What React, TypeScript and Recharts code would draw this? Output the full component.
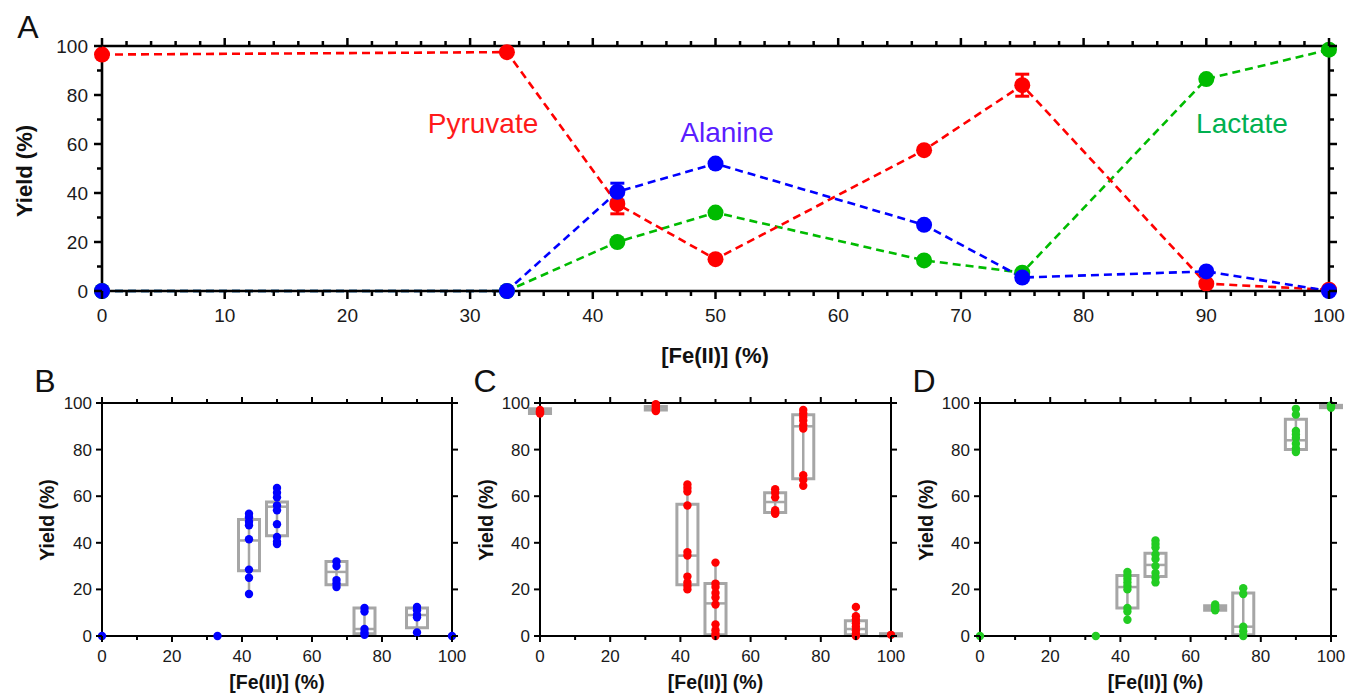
import React from 'react';
import {
  ComposedChart,
  Line,
  Scatter,
  XAxis,
  YAxis,
  ErrorBar,
  ReferenceArea,
  ReferenceLine,
} from 'recharts';

const FONT = '"Liberation Sans", Arial, Helvetica, sans-serif';

// ---- Panel A: mean yields vs [Fe(II)] ----
const feLevels = [0, 33, 42, 50, 67, 75, 90, 100];
const pyruvateMean = [96.5, 97.5, 35.5, 13, 57.5, 84, 3, 0.5];
const pyruvateErr = [0, 0, 4, 0, 0, 4.5, 0, 0];
const alanineMean = [0, 0, 40.5, 52, 27, 5.5, 8, 0];
const alanineErr = [0, 0, 3.5, 0, 0, 0, 0, 0];
const lactateMean = [0, 0, 20, 32, 12.5, 7.5, 86.5, 98.5];

const ticksA_x = [
  0, 2, 4, 6, 8, 10, 12, 14, 16, 18, 20, 22, 24, 26, 28, 30, 32, 34, 36, 38, 40, 42, 44, 46, 48, 50,
  52, 54, 56, 58, 60, 62, 64, 66, 68, 70, 72, 74, 76, 78, 80, 82, 84, 86, 88, 90, 92, 94, 96, 98, 100,
];
const ticksA_y = [0, 10, 20, 30, 40, 50, 60, 70, 80, 90, 100];

// ---- Panels B-D: individual runs + box stats ----
const ticksSmall_x = [0, 10, 20, 30, 40, 50, 60, 70, 80, 90, 100];
const ticksSmall_y = [0, 20, 40, 60, 80, 100];

const alanineRuns = [
  [0],
  [0],
  [52.5, 51, 49, 47.5, 41.5, 28.5, 25, 18],
  [63.5, 61.5, 59.5, 56, 54, 48, 42.5, 40.5, 39.5],
  [32, 30, 24, 22.5, 21],
  [12, 10.5, 3, 1.5, 0.5],
  [12.5, 11, 9, 8, 1.5],
  [0],
];
const alanineQ1 = [null, null, 28, 43, 22, 1, 3.5, null];
const alanineMed = [null, null, 41, 55.5, 27.5, 3, 9, null];
const alanineQ3 = [null, null, 50, 57.5, 32, 12, 12, null];

const pyruvateRuns = [
  [97, 96.5, 96, 95.5],
  [99.5, 98.5, 97.5, 97, 96.5],
  [65, 63.5, 62, 56, 36, 34.5, 25.5, 23, 21.5, 20],
  [31.5, 22.5, 21, 18.5, 16.5, 13.5, 5, 2.5, 1, 0],
  [63, 61.5, 59.5, 54, 53, 52.5],
  [97, 95.5, 94, 92.5, 90.5, 89, 69, 67, 64.5],
  [12.5, 8.5, 7, 5.5, 4, 2.5, 1, 0],
  [0.5],
];
const pyruvateQ1 = [95.5, 97, 22, 0.5, 53, 67.5, 0.5, 0];
const pyruvateMed = [96.5, 98, 34.5, 14, 57.5, 90, 3, 0.5];
const pyruvateQ3 = [97.5, 98.5, 56.5, 22.5, 61.5, 95, 6.5, 1];

const lactateRuns = [
  [0],
  [0],
  [27.5, 26, 24.5, 23, 21.5, 20, 12, 10.5, 7],
  [41, 39.5, 38, 35, 33, 30, 27, 25, 23],
  [13.5, 12.5, 11.5, 11],
  [20.5, 18, 4, 2, 0],
  [97.5, 95, 88, 86.5, 85, 82.5, 80.5, 79],
  [99, 98.5, 98],
];
const lactateQ1 = [null, null, 12, 25.5, 11, 0.5, 80, 98];
const lactateMed = [null, null, 21, 30.5, 12, 4, 84, 98.5];
const lactateQ3 = [null, null, 26, 35.5, 13, 18.5, 93, 99];

// ---- styles / layout ----
const RED = '#ff0000';
const BLUE = '#0000ff';
const GREEN_A = '#00bb00';
const GREEN = '#22cc22';
const GREY = '#a6a6a6';
const BOX_HALF = 3;

interface TickOpts {
  side: 'bottom' | 'left';
  isMajor: (v: number) => boolean;
  major: number;
  minor: number;
  fontSize: number;
  gap: number;
  sw: number;
  far?: number; // distance to the opposite frame side: twin tick drawn there
}

// tick mark (+ twin on the opposite frame side) and label for bottom / left axes
const makeTick = (o: TickOpts) => (props: any) => {
  const x = Number(props.x);
  const y = Number(props.y);
  const v = Number(props.payload.value);
  const big = o.isMajor(v);
  const len = big ? o.major : o.minor;
  if (o.side === 'bottom') {
    const yt = y - (o.far ?? 0);
    return (
      <g>
        <line x1={x} y1={y} x2={x} y2={y + len} stroke="#000" strokeWidth={o.sw} />
        {o.far ? <line x1={x} y1={yt} x2={x} y2={yt - len} stroke="#000" strokeWidth={o.sw} /> : null}
        {big && (
          <text x={x} y={y + o.gap} dy="0.71em" textAnchor="middle" fontSize={o.fontSize} fill="#1a1a1a" fontFamily={FONT}>
            {v}
          </text>
        )}
      </g>
    );
  }
  const xr = x + (o.far ?? 0);
  return (
    <g>
      <line x1={x} y1={y} x2={x - len} y2={y} stroke="#000" strokeWidth={o.sw} />
      {o.far ? <path d={`M${xr},${y}h${len}`} stroke="#000" strokeWidth={o.sw} fill="none" /> : null}
      {big && (
        <text x={x - o.gap} y={y} dy="0.35em" textAnchor="end" fontSize={o.fontSize} fill="#1a1a1a" fontFamily={FONT}>
          {v}
        </text>
      )}
    </g>
  );
};

const dataA = feLevels.map((x, i) => ({
  x,
  py: pyruvateMean[i],
  pyE: pyruvateErr[i],
  al: alanineMean[i],
  alE: alanineErr[i],
  la: lactateMean[i],
}));

const bigDot = (color: string) => (p: any) =>
  <circle key={`d${p.index}`} cx={p.cx} cy={p.cy} r={8} fill={color} stroke="none" />;

const A_W = 1347;
const A_H = 340;
const A_M = { top: 30, right: 8, bottom: 9, left: 42 };
const A_PLOT_W = A_W - A_M.left - A_M.right - 60 - 10;
const A_PLOT_H = A_H - A_M.top - A_M.bottom - 16 - 40;

const PanelA = () => {
  const major10 = (v: number) => v % 10 === 0;
  const major20 = (v: number) => v % 20 === 0;
  const axisStroke = { stroke: '#000', strokeWidth: 2.6 };
  return (
    <ComposedChart width={A_W} height={A_H} data={dataA} margin={A_M} style={{ overflow: 'visible' }}>
      <XAxis
        xAxisId={0}
        dataKey="x"
        type="number"
        domain={[0, 100]}
        ticks={ticksA_x}
        interval={0}
        height={40}
        tickSize={0}
        tickMargin={0}
        tickLine={false}
        axisLine={axisStroke}
        tick={makeTick({ side: 'bottom', isMajor: major10, major: 8, minor: 5, fontSize: 19, gap: 18, sw: 2.5, far: A_PLOT_H })}
      />
      <XAxis xAxisId="top" orientation="top" type="number" domain={[0, 100]} height={16} tick={false} tickLine={false} axisLine={axisStroke} />
      <YAxis
        yAxisId={0}
        type="number"
        domain={[0, 100]}
        ticks={ticksA_y}
        interval={0}
        width={60}
        tickSize={0}
        tickMargin={0}
        tickLine={false}
        axisLine={axisStroke}
        tick={makeTick({ side: 'left', isMajor: major20, major: 8, minor: 5, fontSize: 19, gap: 14, sw: 2.5, far: A_PLOT_W })}
      />
      <YAxis yAxisId="right" orientation="right" type="number" domain={[0, 100]} width={10} tick={false} tickLine={false} axisLine={axisStroke} />
      <Line
        type="linear"
        dataKey="la"
        stroke={GREEN_A}
        strokeWidth={2.6}
        strokeDasharray="8 5"
        dot={bigDot(GREEN_A)}
        activeDot={false}
        isAnimationActive={false}
      />
      <Line
        type="linear"
        dataKey="py"
        stroke={RED}
        strokeWidth={2.6}
        strokeDasharray="8 5"
        dot={bigDot(RED)}
        activeDot={false}
        isAnimationActive={false}
      >
        <ErrorBar dataKey="pyE" width={7} strokeWidth={3} stroke={RED} direction="y" />
      </Line>
      <Line
        type="linear"
        dataKey="al"
        stroke={BLUE}
        strokeWidth={2.6}
        strokeDasharray="8 5"
        dot={bigDot(BLUE)}
        activeDot={false}
        isAnimationActive={false}
      >
        <ErrorBar dataKey="alE" width={7} strokeWidth={3} stroke={BLUE} direction="y" />
      </Line>
    </ComposedChart>
  );
};

interface SmallProps {
  runs: number[][];
  q1: (number | null)[];
  med: (number | null)[];
  q3: (number | null)[];
  color: string;
  plotWidth: number;
}

const S_H = 298;
const S_M = { top: 14, right: 6, bottom: 5, left: 0 };
const S_PLOT_H = S_H - S_M.top - S_M.bottom - 16 - 30;

const SmallPanel = ({ runs, q1, med, q3, color, plotWidth }: SmallProps) => {
  const pts = feLevels.flatMap((x, i) => runs[i].map((y) => ({ x, y })));
  const major20 = (v: number) => v % 20 === 0;
  const all = () => true;
  const axisStroke = { stroke: '#000', strokeWidth: 2 };
  return (
    <ComposedChart width={60 + plotWidth + 10 + S_M.right} height={S_H} margin={S_M} style={{ overflow: 'visible' }}>
      <XAxis
        xAxisId={0}
        dataKey="x"
        type="number"
        domain={[0, 100]}
        ticks={ticksSmall_x}
        interval={0}
        height={30}
        tickSize={0}
        tickMargin={0}
        tickLine={false}
        axisLine={axisStroke}
        tick={makeTick({ side: 'bottom', isMajor: major20, major: 6, minor: 4, fontSize: 17, gap: 14, sw: 2, far: S_PLOT_H })}
      />
      <XAxis xAxisId="top" orientation="top" type="number" domain={[0, 100]} height={16} tick={false} tickLine={false} axisLine={axisStroke} />
      <YAxis
        yAxisId={0}
        dataKey="y"
        type="number"
        domain={[0, 100]}
        ticks={ticksSmall_y}
        interval={0}
        width={60}
        tickSize={0}
        tickMargin={0}
        tickLine={false}
        axisLine={axisStroke}
        tick={makeTick({ side: 'left', isMajor: all, major: 6, minor: 6, fontSize: 17, gap: 10, sw: 2, far: plotWidth })}
      />
      <YAxis yAxisId="right" orientation="right" type="number" domain={[0, 100]} width={10} tick={false} tickLine={false} axisLine={axisStroke} />
      {feLevels.map((x, i) =>
        q1[i] === null ? null : (
          <ReferenceLine
            key={`w${i}`}
            segment={[
              { x, y: Math.min(...runs[i]) },
              { x, y: Math.max(...runs[i]) },
            ]}
            stroke={GREY}
            strokeWidth={2.5}
            ifOverflow="visible"
          />
        )
      )}
      {feLevels.map((x, i) =>
        q1[i] === null ? null : (
          <ReferenceArea
            key={`b${i}`}
            x1={x - BOX_HALF}
            x2={x + BOX_HALF}
            y1={q1[i] as number}
            y2={q3[i] as number}
            fill="none"
            fillOpacity={0}
            stroke={GREY}
            strokeWidth={3}
            ifOverflow="visible"
          />
        )
      )}
      {feLevels.map((x, i) =>
        med[i] === null ? null : (
          <ReferenceLine
            key={`m${i}`}
            segment={[
              { x: x - BOX_HALF, y: med[i] as number },
              { x: x + BOX_HALF, y: med[i] as number },
            ]}
            stroke={GREY}
            strokeWidth={2.5}
            ifOverflow="visible"
          />
        )
      )}
      <Scatter
        data={pts}
        fill={color}
        isAnimationActive={false}
        shape={(p: any) => <circle cx={p.cx} cy={p.cy} r={4.2} fill={color} />}
      />
    </ComposedChart>
  );
};

const Overlay = () => (
  <svg
    width={1347}
    height={696}
    style={{ position: 'absolute', left: 0, top: 0, pointerEvents: 'none' }}
    fontFamily={FONT}
  >
    <text x={28} y={38} fontSize={32} textAnchor="middle" fill="#111">A</text>
    <text x={45} y={392} fontSize={32} textAnchor="middle" fill="#111">B</text>
    <text x={485} y={392} fontSize={32} textAnchor="middle" fill="#111">C</text>
    <text x={924} y={392} fontSize={32} textAnchor="middle" fill="#111">D</text>

    <text x={483} y={133} fontSize={28} textAnchor="middle" fill="#ff1a1a">Pyruvate</text>
    <text x={727} y={142} fontSize={28} textAnchor="middle" fill="#5a1eff">Alanine</text>
    <text x={1242} y={133} fontSize={28} textAnchor="middle" fill="#00b050">Lactate</text>

    <text x={24} y={171} fontSize={22} fontWeight="bold" textAnchor="middle" dominantBaseline="central" transform="rotate(-90 24 171)" fill="#111">
      Yield (%)
    </text>
    <text x={715} y={355} fontSize={22} fontWeight="bold" textAnchor="middle" dominantBaseline="central" fill="#111">
      [Fe(II)] (%)
    </text>

    {[47, 486, 926].map((cx, k) => (
      <text key={`yt${k}`} x={cx} y={520} fontSize={19.5} fontWeight="bold" textAnchor="middle" dominantBaseline="central" transform={`rotate(-90 ${cx} 520)`} fill="#111">
        Yield (%)
      </text>
    ))}
    {[277, 715.5, 1155.5].map((cx, k) => (
      <text key={`xt${k}`} x={cx} y={682} fontSize={19.5} fontWeight="bold" textAnchor="middle" dominantBaseline="central" fill="#111">
        [Fe(II)] (%)
      </text>
    ))}
  </svg>
);

export default function App() {
  return (
    <div style={{ position: 'absolute', left: 0, top: 0, width: 1347, height: 696, background: '#fff', fontFamily: FONT }}>
      <div style={{ position: 'absolute', left: 0, top: 0 }}>
        <PanelA />
      </div>
      <div style={{ position: 'absolute', left: 42, top: 373 }}>
        <SmallPanel runs={alanineRuns} q1={alanineQ1} med={alanineMed} q3={alanineQ3} color={BLUE} plotWidth={350} />
      </div>
      <div style={{ position: 'absolute', left: 480, top: 373 }}>
        <SmallPanel runs={pyruvateRuns} q1={pyruvateQ1} med={pyruvateMed} q3={pyruvateQ3} color={RED} plotWidth={351} />
      </div>
      <div style={{ position: 'absolute', left: 920, top: 373 }}>
        <SmallPanel runs={lactateRuns} q1={lactateQ1} med={lactateMed} q3={lactateQ3} color={GREEN} plotWidth={351} />
      </div>
      <Overlay />
    </div>
  );
}
